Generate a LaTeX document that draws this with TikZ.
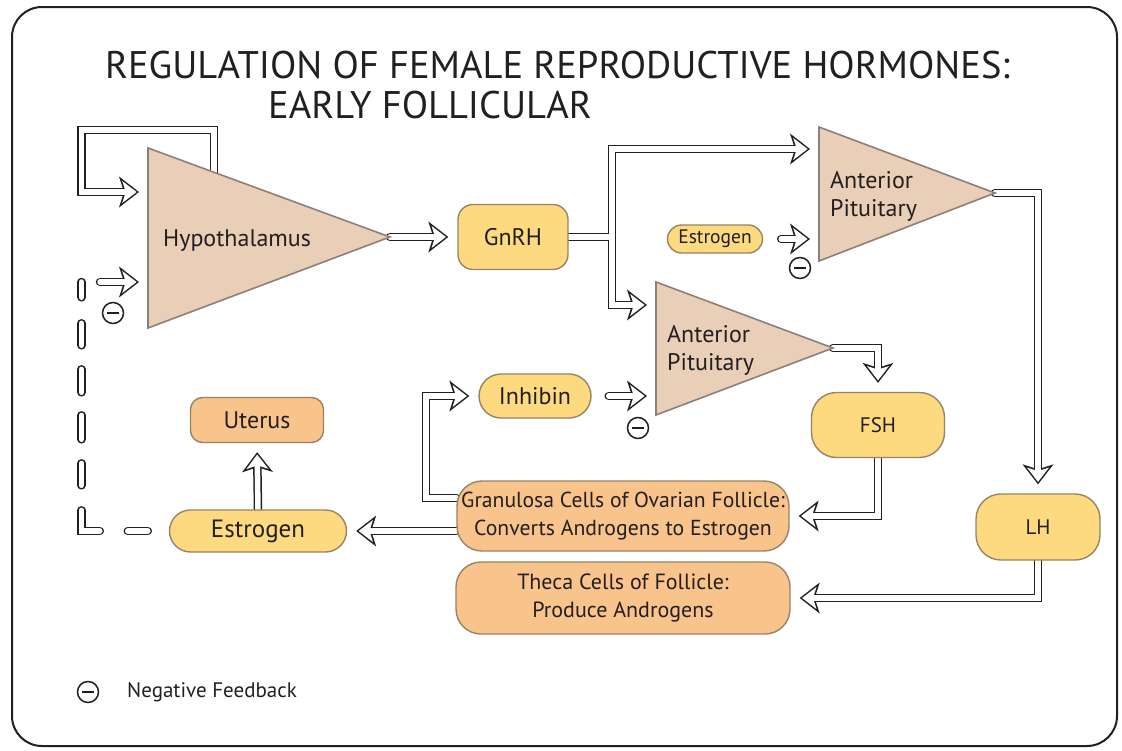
\documentclass[tikz,border=0pt]{standalone}
\usepackage{fontspec}
\setmainfont{PT Sans}
\usetikzlibrary{arrows.meta,backgrounds}

\definecolor{tanfill}{RGB}{233,206,184}
\definecolor{tanline}{RGB}{140,128,120}
\definecolor{yelfill}{RGB}{253,217,128}
\definecolor{orgfill}{RGB}{248,196,140}
\definecolor{boxline}{RGB}{150,132,100}
\definecolor{ink}{RGB}{35,31,32}

\tikzset{
  gland/.style={fill=tanfill, draw=tanline, line width=1.6pt},
  lbl/.style={text=ink, inner sep=0pt, font=\fontsize{24}{28}\selectfont},
  box/.style={draw=boxline, line width=1.4pt, text=ink, inner sep=0pt, align=center,
    font=\fontsize{22}{28}\selectfont},
  hormone/.style={box, fill=yelfill},
  tissue/.style={box, fill=orgfill},
  minus/.style={circle, draw=ink, line width=1.5pt, minimum size=21pt, inner sep=0pt,
    path picture={\draw[ink, line width=2.4pt] ([xshift=-6pt]path picture bounding box.center) -- ([xshift=6pt]path picture bounding box.center);}},
  wireout/.style={draw=ink, line width=8.5pt, line cap=round, shorten >=9pt,
    -{Stealth[length=20pt, width=31pt, inset=5pt, line width=0pt]}},
  wirein/.style={draw=white, line width=5.5pt, line cap=round, shorten >=11.4pt,
    -{Stealth[length=14.4pt, width=22.1pt, inset=3.6pt, line width=0pt]}},
  hollow/.style={wireout, postaction={wirein}},
  dashwire/.style={draw=ink, line width=8.5pt, line cap=round,
    dash pattern=on 20pt off 28pt on 39pt off 25pt on 22pt off 24pt on 24pt off 23pt on 23pt off 24pt on 22pt off 26pt on 19pt off 40pt,
    postaction={draw=white, line width=5.5pt}},
}

\begin{document}
\begin{tikzpicture}[x=1pt, y=-1pt]
  \useasboundingbox (0,0) rectangle (1122,750);
  \draw[ink, line width=2pt, rounded corners=30pt] (12,7) rectangle (1117,746);

  % Title
  \node[lbl, anchor=base west, font=\fontsize{38.5}{46}\selectfont] (title1) at (105,78) {REGULATION OF FEMALE REPRODUCTIVE HORMONES:};
  \node[lbl, anchor=base west, font=\fontsize{38.5}{46}\selectfont] (title2) at (268,118) {EARLY FOLLICULAR};

  % Glands
  \coordinate (hypT) at (148,148); \coordinate (hypB) at (148,328); \coordinate (hypA) at (390,237);
  \coordinate (aptT) at (819,127); \coordinate (aptB) at (819,261); \coordinate (aptA) at (995,193);
  \coordinate (aplT) at (656,282); \coordinate (aplB) at (656,415); \coordinate (aplA) at (833,348);
  \draw[gland] (hypT) -- (hypA) -- (hypB) -- cycle;
  \draw[gland] (aptT) -- (aptA) -- (aptB) -- cycle;
  \draw[gland] (aplT) -- (aplA) -- (aplB) -- cycle;
  \node[lbl, anchor=base west] (hyplbl) at (163,246) {Hypothalamus};
  \node[lbl, anchor=north west, align=left] (aptlbl) at (830,171) {Anterior\\Pituitary};
  \node[lbl, anchor=north west, align=left] (apllbl) at (667,325) {Anterior\\Pituitary};

  % Hormones and tissues
  \node[hormone, minimum width=110pt, minimum height=65pt, rounded corners=15pt, font=\fontsize{24}{28}\selectfont] (gnrh) at (513,237) {GnRH};
  \node[hormone, minimum width=95pt, minimum height=28pt, rounded corners=14pt, font=\fontsize{19.5}{22}\selectfont] (esA) at (715,239) {Estrogen};
  \node[hormone, minimum width=112pt, minimum height=44pt, rounded corners=22pt, font=\fontsize{24}{28}\selectfont] (inhib) at (535,396) {Inhibin};
  \node[hormone, minimum width=133pt, minimum height=65pt, rounded corners=25pt, font=\fontsize{21}{24}\selectfont] (fsh) at (878,425) {FSH};
  \node[hormone, minimum width=124pt, minimum height=66pt, rounded corners=25pt, font=\fontsize{21}{24}\selectfont] (lh) at (1038,527) {LH};
  \node[tissue, minimum width=133pt, minimum height=45pt, rounded corners=12pt, font=\fontsize{24}{28}\selectfont] (uterus) at (257,420) {Uterus};
  \node[hormone, minimum width=177pt, minimum height=42pt, rounded corners=21pt, font=\fontsize{25}{28}\selectfont] (estr) at (258,531) {Estrogen};
  \node[tissue, minimum width=332pt, minimum height=70pt, rounded corners=25pt, font=\fontsize{21.7}{28}\selectfont] (gran) at (623,516) {Granulosa Cells of Ovarian Follicle:\\Converts Androgens to Estrogen};
  \node[tissue, minimum width=334pt, minimum height=72pt, rounded corners=25pt] (theca) at (623,598) {Theca Cells of Follicle:\\Produce Androgens};

  % Negative feedback marks
  \node[minus] (mhyp) at (113,313) {};
  \node[minus] (mapt) at (800,268) {};
  \node[minus] (mapl) at (638,428) {};
  \node[minus] (mkey) at (88,692) {};
  \node[lbl, anchor=west, font=\fontsize{21}{24}\selectfont] (keytext) at (127,692) {Negative Feedback};

  \coordinate (loop) at (214,176);
  \coordinate (fbk) at (81.5,282);
  \coordinate (fbarrow) at (100,282);

  \begin{scope}[on background layer]
    \draw[hollow] (loop) |- (81.5,130) |- (hypT |- 0,192);
    \draw[hollow] (hypA) -- (gnrh);
    \draw[wireout] (gnrh.east) -- (612,237) |- (aptT |- 0,149);
    \draw[wireout] (612,237) |- (aplT |- 0,305);
    \draw[wirein] (gnrh.east) -- (612,237) |- (aptT |- 0,149);
    \draw[wirein] (612,237) |- (aplT |- 0,305);
    \draw[hollow] ([xshift=18pt]esA.east) -- (aptT |- esA);
    \draw[hollow] (aptA) -| (lh.north);
    \draw[hollow] (aplA) -| (fsh.north);
    \draw[hollow] (fsh.south) |- (gran.east);
    \draw[hollow] (lh.south) |- (theca.east);
    \draw[hollow] (gran.west |- 0,498) -| (426,396) -- (inhib.west);
    \draw[hollow] ([xshift=17pt]inhib.east) -- (aplT |- inhib);
    \draw[hollow] (gran.west |- estr) -- (estr.east);
    \draw[hollow] (estr.north) -- (uterus.south);
    \draw[dashwire] ([xshift=-21pt]estr.west) -| (fbk);
    \draw[hollow] (fbarrow) -- (hypT |- fbarrow);
  \end{scope}
\end{tikzpicture}
\end{document}
